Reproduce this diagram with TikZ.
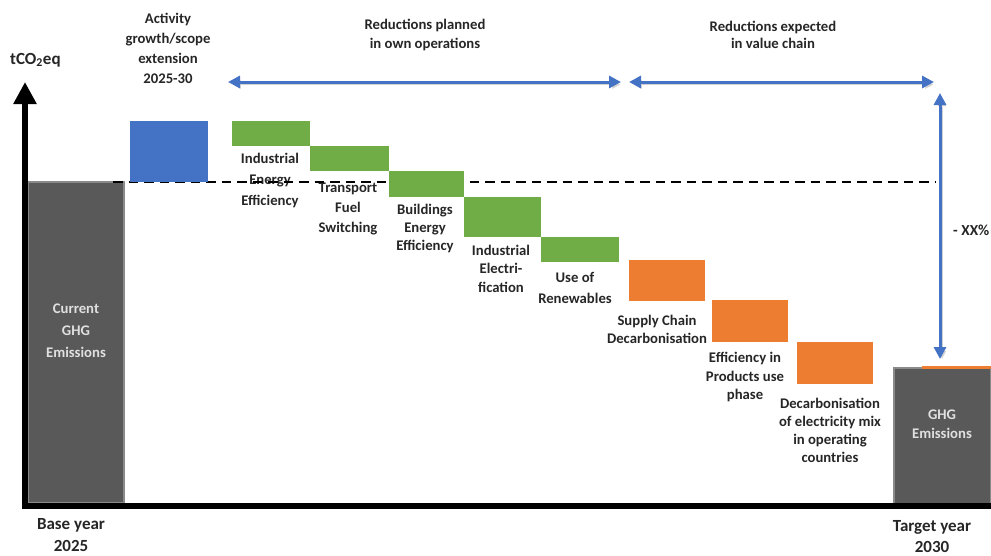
\documentclass[tikz,border=0pt]{standalone}
\usepackage{fontspec}
\setmainfont{Carlito}
\usetikzlibrary{arrows.meta}
\definecolor{cblue}{HTML}{4472C4}
\definecolor{cgreen}{HTML}{70AD47}
\definecolor{corange}{HTML}{ED7D31}
\definecolor{cgray}{HTML}{595959}
\definecolor{cgrayedge}{HTML}{8A8A8A}
\definecolor{clight}{HTML}{E0E0E0}
\newcommand{\fs}[1]{\bfseries\fontsize{14.7}{#1}\selectfont}
\newcommand{\fb}[1]{\bfseries\fontsize{17}{#1}\selectfont}
\begin{document}
\begin{tikzpicture}[x=1pt,y=-1pt,
  lbl/.style={font=\fs{19.5}, align=center, inner sep=0pt, text=black!85},
  bar/.style={draw=none, inner sep=0pt, outer sep=0pt},
  graybar/.style={fill=cgray, draw=cgrayedge, line width=2pt, inner sep=0pt},
  barrow/.style={draw=cblue, line width=3pt, {Triangle[length=12pt,width=12pt]}-{Triangle[length=12pt,width=12pt]},
     preaction={draw=black!18, transform canvas={shift={(2pt,-2.5pt)}}}},
  axis/.style={line width=6.5pt, draw=black}
]
\useasboundingbox (0,0) rectangle (991,555);

% coordinates
\coordinate (yb) at (25,509);
\coordinate (yt) at (25,82);
\coordinate (xl) at (22,506);
\coordinate (xr) at (995,506);
\coordinate (dashL) at (113,182);
\coordinate (dashR) at (935,182);
\coordinate (a1L) at (228,82);
\coordinate (a1R) at (621,82);
\coordinate (a2L) at (629,82);
\coordinate (a2R) at (934,82);
\coordinate (vT) at (940,93);
\coordinate (vB) at (940,359);

% gray bars
\node[graybar, minimum width=96pt, minimum height=321pt] (cur) at (75.5,342.5) {};
\node[graybar, minimum width=97pt, minimum height=137pt] (tgt) at (942.5,436.5) {};
\node[bar, fill=corange, minimum width=72pt, minimum height=3pt] (strip) at (958,367) {};

% labels
\node[lbl, font=\fb{20}, anchor=west] (unit) at (10,60) {tCO\textsubscript{2}eq};
\node[lbl, font=\fs{20}] (act) at (168,48) {Activity\\growth/scope\\extension\\2025-30};
\node[lbl] (rp) at (425,35) {Reductions planned\\in own operations};
\node[lbl, font=\fs{17.5}] (re) at (773,35) {Reductions expected\\in value chain};
\node[lbl, font=\fs{21}] (t1) at (270,180) {Industrial\\Energy\\Efficiency};
\node[lbl, font=\fs{20}] (t2) at (348,209) {Transport\\Fuel\\Switching};
\node[lbl, font=\fs{18}] (t3) at (425,228.5) {Buildings\\Energy\\Efficiency};
\node[lbl, font=\fs{18.5}] (t4) at (501,268.5) {Industrial\\Electri-\\fication};
\node[lbl, font=\fs{21}] (t5) at (575,287.5) {Use of\\Renewables};
\node[lbl, font=\fs{17.5}] (t6) at (657,329.5) {Supply Chain\\Decarbonisation};
\node[lbl, font=\fs{18.5}] (t7) at (745,377) {Efficiency in\\Products use\\phase};
\node[lbl, font=\fs{18}] (t8) at (830,430.5) {Decarbonisation\\of electricity mix\\in operating\\countries};
\node[lbl, text=clight, font=\fs{19.5}] (tg) at (942,424) {GHG\\Emissions};
\node[lbl, text=clight, font=\fs{22}] (cg) at (76,330.5) {Current\\GHG\\Emissions};
\node[lbl, font=\fb{22}] (by) at (71,535.5) {Base year\\2025};
\node[lbl, font=\fb{21}] (ty) at (932,536.5) {Target year\\2030};
\node[lbl, font=\bfseries\fontsize{15.3}{18}\selectfont, anchor=west] (xx) at (953,230) {- XX\%};

% dashed baseline
\draw[line width=2.6pt, dash pattern=on 9.5pt off 6pt] (dashL) -- (dashR);

% waterfall bars
\node[bar, fill=cblue, minimum width=78pt, minimum height=61pt] (blue) at (169,151.5) {};
\node[bar, fill=cgreen, minimum width=78pt, minimum height=25pt] (g1) at (271,133.5) {};
\node[bar, fill=cgreen, minimum width=79pt, minimum height=25pt] (g2) at (349.5,158.5) {};
\node[bar, fill=cgreen, minimum width=75pt, minimum height=26pt] (g3) at (426.5,184) {};
\node[bar, fill=cgreen, minimum width=77pt, minimum height=40pt] (g4) at (502.5,217) {};
\node[bar, fill=cgreen, minimum width=78pt, minimum height=25pt] (g5) at (580,249.5) {};
\node[bar, fill=corange, minimum width=76pt, minimum height=41pt] (o1) at (667,280.5) {};
\node[bar, fill=corange, minimum width=76pt, minimum height=42pt] (o2) at (750,321) {};
\node[bar, fill=corange, minimum width=76pt, minimum height=42pt] (o3) at (835,363) {};

% axes
\draw[axis] (xl) -- (xr);
\draw[axis, -{Triangle[length=22pt,width=22pt]}] (yb) -- (yt);

% blue arrows
\draw[barrow] (a1L) -- (a1R);
\draw[barrow] (a2L) -- (a2R);
\draw[barrow] (vT) -- (vB);
\end{tikzpicture}
\end{document}
